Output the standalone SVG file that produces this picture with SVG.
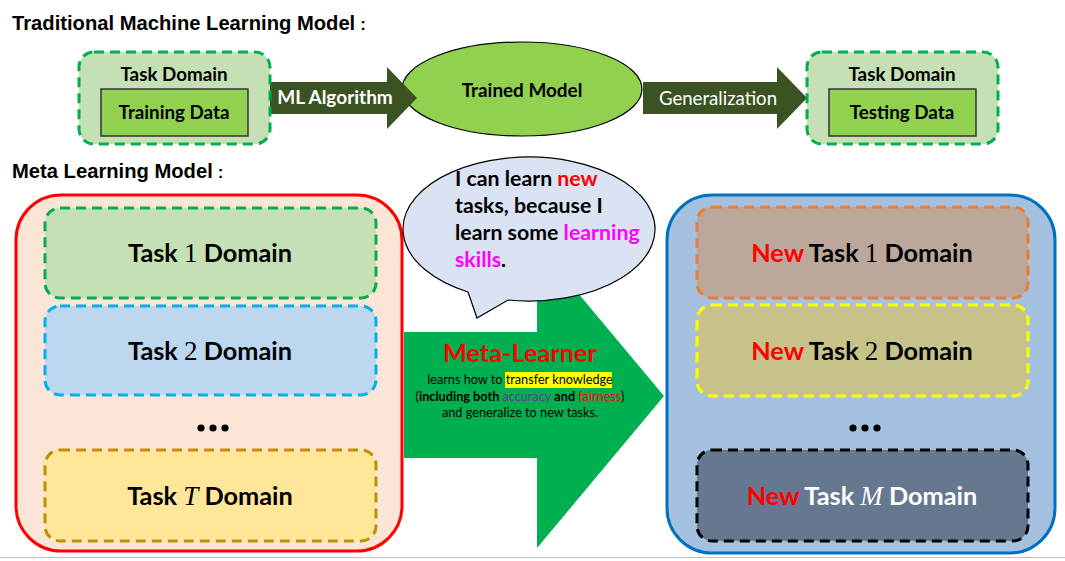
<svg xmlns="http://www.w3.org/2000/svg" width="1065" height="561" viewBox="0 0 1065 561">
<style>
.title{font-family:"Liberation Sans",Arial,sans-serif;font-weight:bold;font-size:20.2px;fill:#000}
.cal{font-family:Lato,"Open Sans",sans-serif;font-weight:bold}
.sm{font-size:18.8px}
.big{font-size:25.3px}
.dom{stroke-width:3;stroke-dasharray:10 6}
.math{font-family:"Liberation Serif","Times New Roman",serif;font-weight:normal}
.note{font-family:Lato,sans-serif;font-size:12.7px}
</style>
<rect width="1065" height="561" fill="#fff"/>
<text class="title" x="12" y="30">Traditional Machine Learning Model<tspan dx="5" font-size="17">:</tspan></text>
<text class="title" x="12" y="178">Meta Learning Model<tspan dx="5" font-size="17">:</tspan></text>

<g id="trained-model">
<ellipse cx="522" cy="89" rx="120" ry="47" fill="#92D050" stroke="#000" stroke-width="1.2"/>
<text class="cal" x="522" y="97" text-anchor="middle" font-size="18.9">Trained Model</text>
</g>

<g id="connectors">
<polygon points="268,82 387,82 387,67 417,98 387,129 387,114 268,114" fill="#3B5323"/>
<text class="cal" x="335" y="104" text-anchor="middle" font-size="19" fill="#fff">ML Algorithm</text>
<polygon points="643,82 777,82 777,67 807,98 777,129 777,114 643,114" fill="#3B5323"/>
<text x="718" y="105" text-anchor="middle" font-family="Lato,sans-serif" font-size="18.6" fill="#fff">Generalization</text>
</g>

<g id="train-domain">
<rect x="79" y="52" width="191" height="92" rx="15" fill="#C5E0B4" stroke="#00B050" class="dom"/>
<text class="cal sm" x="174" y="81" text-anchor="middle">Task Domain</text>
<rect x="101" y="89" width="147" height="47" fill="#92D050" stroke="#333" stroke-width="1.5"/>
<text class="cal sm" x="174" y="119" text-anchor="middle">Training Data</text>
</g>

<g id="test-domain">
<rect x="807" y="52" width="191" height="92" rx="15" fill="#C5E0B4" stroke="#00B050" class="dom"/>
<text class="cal sm" x="902" y="81" text-anchor="middle">Task Domain</text>
<rect x="829" y="89" width="147" height="47" fill="#92D050" stroke="#333" stroke-width="1.5"/>
<text class="cal sm" x="902" y="119" text-anchor="middle">Testing Data</text>
</g>

<g id="meta-tasks">
<rect x="16" y="195" width="386" height="356" rx="45" fill="#FBE5D6" stroke="#FF0000" stroke-width="3"/>
<rect x="45" y="208" width="331" height="90" rx="15" fill="#C5E0B4" stroke="#00B050" class="dom"/>
<text class="cal big" x="210" y="262" text-anchor="middle">Task <tspan class="math" font-size="27">1</tspan> Domain</text>
<rect x="45" y="306" width="331" height="89" rx="15" fill="#BDD7EE" stroke="#00B0F0" class="dom"/>
<text class="cal big" x="210" y="360" text-anchor="middle">Task <tspan class="math" font-size="27">2</tspan> Domain</text>
<g fill="#000"><circle cx="201" cy="428" r="3.6"/><circle cx="213" cy="428" r="3.6"/><circle cx="225" cy="428" r="3.6"/></g>
<rect x="45" y="450" width="331" height="91" rx="15" fill="#FFE699" stroke="#BF9000" class="dom"/>
<text class="cal big" x="210" y="505" text-anchor="middle">Task <tspan class="math" font-style="italic" font-size="27">T</tspan> Domain</text>
</g>

<g id="meta-learner">
<polygon points="404,332 537,332 537,244 664,396 537,548 537,458 404,458" fill="#00B050"/>
<text class="cal" x="520" y="362" text-anchor="middle" font-size="25.3" fill="#FF0000">Meta-Learner</text>
<rect x="505" y="372" width="107" height="16" fill="#FFFF00"/>
<text class="note" x="520" y="384" text-anchor="middle">learns how to transfer knowledge</text>
<text class="note" x="520" y="401" text-anchor="middle">(<tspan font-weight="bold">including both </tspan><tspan fill="#7030A0">accuracy</tspan><tspan font-weight="bold"> and </tspan><tspan fill="#FF0000">fairness</tspan>)</text>
<text class="note" x="520" y="417" text-anchor="middle">and generalize to new tasks.</text>
</g>

<g id="speech-bubble">
<path d="M468,292 A126,72 0 1 1 508,300 L477,318 Z" fill="#DAE3F3" stroke="#000" stroke-width="1.2"/>
<g class="cal" font-size="21.3">
<text x="455" y="186">I can learn <tspan fill="#FF0000">new</tspan></text>
<text x="455" y="213">tasks, because I</text>
<text x="455" y="240">learn some <tspan fill="#FF00FF">learning</tspan></text>
<text x="455" y="267"><tspan fill="#FF00FF">skills</tspan>.</text>
</g>
</g>

<g id="new-tasks">
<rect x="667" y="195" width="388" height="358" rx="45" fill="#A4C2E0" stroke="#0070C0" stroke-width="3"/>
<rect x="697" y="207" width="331" height="91" rx="15" fill="#BCA79B" stroke="#ED7D31" class="dom"/>
<text class="cal big" x="862" y="262" text-anchor="middle"><tspan fill="#FF0000">New</tspan> Task <tspan class="math" font-size="27">1</tspan> Domain</text>
<rect x="697" y="305" width="331" height="91" rx="15" fill="#C6C28A" stroke="#FFFF00" class="dom"/>
<text class="cal big" x="862" y="360" text-anchor="middle"><tspan fill="#FF0000">New</tspan> Task <tspan class="math" font-size="27">2</tspan> Domain</text>
<g fill="#000"><circle cx="853" cy="428" r="3.6"/><circle cx="865" cy="428" r="3.6"/><circle cx="877" cy="428" r="3.6"/></g>
<rect x="697" y="450" width="331" height="91" rx="15" fill="#66788F" stroke="#000" class="dom"/>
<text class="cal big" x="862" y="505" text-anchor="middle" fill="#fff"><tspan fill="#FF0000">New</tspan> Task <tspan class="math" font-style="italic" font-size="27">M</tspan> Domain</text>
</g>

<line x1="0" y1="557.5" x2="1065" y2="557.5" stroke="#BFBFBF" stroke-width="1"/>
</svg>
